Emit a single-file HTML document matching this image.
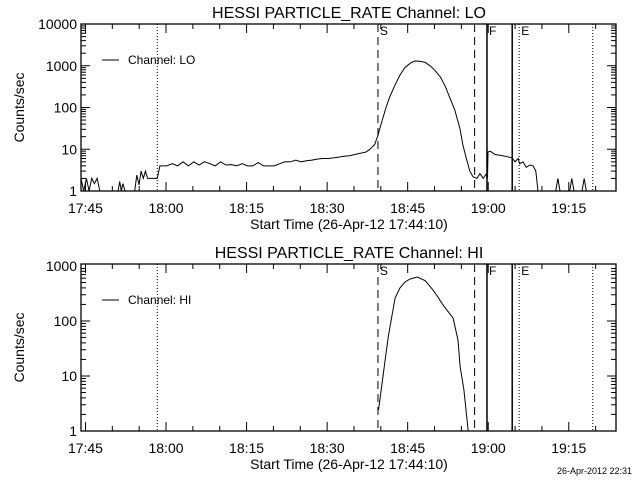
<!DOCTYPE html>
<html><head><meta charset="utf-8"><style>
html,body{margin:0;padding:0;background:#fff;}
svg{display:block;font-family:"Liberation Sans",sans-serif;}
</style></head><body>
<svg id="c" width="640" height="480" xmlns="http://www.w3.org/2000/svg"></svg>
<script>
// times: minutes after 17:44:10
const loTimes = [0,0.5,1,1.5,2,2.5,3,3.5,6.9,7.2,7.5,7.8,8.2,10,10.4,10.8,11.2,11.6,12,12.4,12.8,13.5,14.2,14.7,16,17,18,19,20,21,22,23,24,25,26,27,28,29,30,31,32,33,34,35,36,37,38,39,40,41,42,43,44,45,46,47,48,49,50,51,52,53,53.8,54.7,55.3,56,56.8,57.5,58.5,59.4,60.3,61.3,62.2,63.1,64.1,65,65.9,66.9,67.8,68.7,69.6,70.6,71.1,71.7,72.4,73,73.7,74.3,74.9,75.4,75.7,75.8,76.2,77.1,78,79,80.3,80.8,81.4,81.7,82.3,82.9,83.6,84.2,84.7,85.1,88.4,88.8,89.2,91,91.4,91.8,93.3,93.7,94.1,99];
const loValues = [2,1,2,1,2,1.5,2,1,1,1.7,1,1.5,1,1,2.4,1.4,3,2,3,2,2,2,2,4,4,4.5,4,5,4,5,4.2,5,4.5,4,5,4.2,4.3,4,4.5,4,4,4.8,4,4,4,4.5,5,5,5.5,5,5.3,5.5,5.8,6,6,6.2,6.5,6.8,7,7.5,8,8.5,10,13,22,45,100,180,350,600,900,1150,1300,1280,1200,1000,780,540,330,170,87,30,13,6.5,3,2.2,2,2.6,2,2.5,2,8.6,9,7.5,7.2,6.8,6.2,5,6,4.5,5,3.7,4.2,4,3,1,1,2,1,1,2,1,1,2,1,1];
const hiTimes = [55.4,57.2,58.5,59.4,60.3,61.3,62.6,64.1,65.4,66.3,67.2,68.1,69.3,70.2,70.6,71.3,72.1];
const hiValues = [2.4,51,263,400,510,580,630,540,380,290,210,160,113,45,15,5.6,1];
const xTickLabels = ['17:45','18:00','18:15','18:30','18:45','19:00','19:15'];
const xTickMinutes = [0.833,15.833,30.833,45.833,60.833,75.833,90.833];
const vLines = [[14.2,'dot',''],[55.3,'dash','S'],[73.3,'dash',''],[75.6,'solid','F'],[80.3,'solid',''],[81.6,'dot','E'],[95.3,'dot','']];
const loYTicks = ['1','10','100','1000','10000'];
const hiYTicks = ['1','10','100','1000'];

const svg=document.getElementById('c');
const NS='http://www.w3.org/2000/svg';
function mk(t,a,p){const e=document.createElementNS(NS,t);for(const k in a)e.setAttribute(k,a[k]);(p||svg).appendChild(e);return e;}
const X0=81,X1=616,PXM=5.37;
const xs=t=>X0+t*PXM;

function panel(top,bot,decades,ymaxLog,times,vals,title,leg,yTicks,name){
  const g=mk('g',{});
  
  
  const pxd=(bot-top)/ymaxLog;
  const ys=v=>bot-Math.log10(Math.max(v,1))*pxd;
  const fr=mk('rect',{x:X0,y:top,width:X1-X0,height:bot-top,fill:'none',stroke:'#000','stroke-width':1.3},g);
  
  
  for(let m=0.833;m<=100;m+=5){
    const x=xs(m), major=Math.abs(((m-0.833)/15)-Math.round((m-0.833)/15))<0.01;
    const L=major?9:5;
    mk('line',{x1:x,y1:bot,x2:x,y2:bot-L,stroke:'#000'},g);
    mk('line',{x1:x,y1:top,x2:x,y2:top+L,stroke:'#000'},g);
  }
  xTickLabels.forEach((l,i)=>{
    const t=mk('text',{x:xs(xTickMinutes[i]),y:bot+22,'text-anchor':'middle','font-size':14},g);
    t.textContent=l;
    
    
  });
  for(let d=0;d<decades;d++){
    for(let k=1;k<10;k++){
      const y=ys(Math.pow(10,d)*k);
      if(y<top-0.5)continue;
      const L=k==1?9:5;
      mk('line',{x1:X0,y1:y,x2:X0+L,y2:y,stroke:'#000'},g);
      mk('line',{x1:X1,y1:y,x2:X1-L,y2:y,stroke:'#000'},g);
    }
  }
  yTicks.forEach((l,i)=>{
    const t=mk('text',{x:X0-4,y:ys(Math.pow(10,i))+5,'text-anchor':'end','font-size':14},g);
    t.textContent=l;
    
    
  });
  vLines.forEach(v=>{
    const x=xs(v[0]);
    const a={x1:x,y1:top,x2:x,y2:bot,stroke:'#000','stroke-width':v[1]=='solid'?1.5:1};
    if(v[1]=='dash')a['stroke-dasharray']='8,5';
    if(v[1]=='dot')a['stroke-dasharray']='1,2';
    const ln=mk('line',a,g);
    
    
    if(v[2]){const t=mk('text',{x:x+2,y:top+11,'font-size':12},g);t.textContent=v[2];
      
      }
  });
  const pts=times.map((t,i)=>xs(t).toFixed(1)+','+ys(vals[i]).toFixed(1)).join(' ');
  const pl=mk('polyline',{points:pts,fill:'none',stroke:'#000','stroke-width':1},g);
  
  
  const lg=mk('g',{},g);
  
  
  mk('line',{x1:102,y1:top+36,x2:119,y2:top+36,stroke:'#000'},lg);
  const lt=mk('text',{x:128,y:top+40,'font-size':12},lg);lt.textContent=leg;
  const tt=mk('text',{x:349,y:top-6,'text-anchor':'middle','font-size':16},g);tt.textContent=title;
  
  
  const xt=mk('text',{x:349,y:bot+38,'text-anchor':'middle','font-size':14},g);xt.textContent='Start Time (26-Apr-12 17:44:10)';
  
  
  const cy=(top+bot)/2;
  const yt=mk('text',{x:24,y:cy,'text-anchor':'middle','font-size':14,transform:'rotate(-90 24 '+cy+')'},g);yt.textContent='Counts/sec';
  
  
}
panel(24,191,4,4,loTimes,loValues,'HESSI PARTICLE_RATE Channel: LO','Channel: LO',loYTicks,'lo-panel');
panel(264,431,3,3.036,hiTimes,hiValues,'HESSI PARTICLE_RATE Channel: HI','Channel: HI',hiYTicks,'hi-panel');
const ds=mk('text',{x:632,y:474,'text-anchor':'end','font-size':9});
ds.textContent='26-Apr-2012 22:31';


</script>
</body></html>
